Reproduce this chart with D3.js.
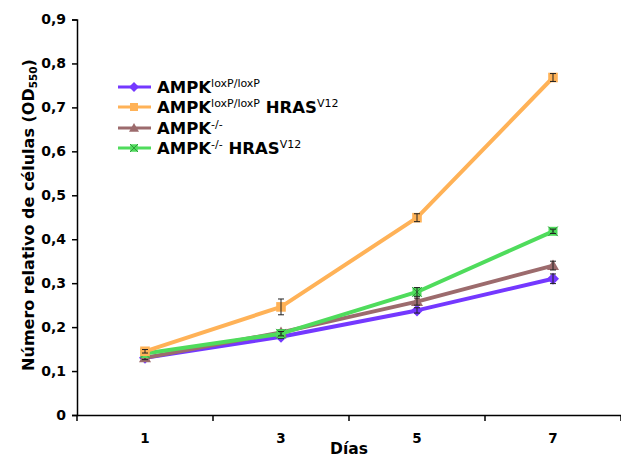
<!DOCTYPE html>
<html><head><meta charset="utf-8">
<script src="https://cdn.jsdelivr.net/npm/d3@7"></script>
<style>body{margin:0;background:#fff}svg{display:block;font-family:"DejaVu Sans",Verdana,sans-serif}</style>
</head><body><svg id="c" width="621" height="459"></svg>
<script>
const days = ["1","3","5","7"];
const yTicks = [0,0.1,0.2,0.3,0.4,0.5,0.6,0.7,0.8,0.9];
const seriesNames = ["AMPK loxP/loxP","AMPK loxP/loxP HRAS V12","AMPK -/-","AMPK -/- HRAS V12"];
const ampkFlox = [0.130,0.178,0.238,0.310];
const ampkFloxErr = [0.004,0.004,0.006,0.011];
const ampkFloxHras = [0.145,0.246,0.449,0.768];
const ampkFloxHrasErr = [0.004,0.018,0.009,0.009];
const ampkKo = [0.130,0.188,0.258,0.340];
const ampkKoErr = [0.004,0.006,0.008,0.010];
const ampkKoHras = [0.140,0.185,0.280,0.418];
const ampkKoHrasErr = [0.004,0.005,0.010,0.005];

const colors = ["#7438ff","#ffb257","#9c6b6d","#4fdc5c"];
const markers = ["diamond","square","triangle","squarex"];
const series = [
  {name:0, v:ampkFlox, e:ampkFloxErr},
  {name:1, v:ampkFloxHras, e:ampkFloxHrasErr},
  {name:2, v:ampkKo, e:ampkKoErr},
  {name:3, v:ampkKoHras, e:ampkKoHrasErr}
];
const drawOrder = [0,2,3,1];

const svg = d3.select("#c");
const x = d3.scaleBand().domain(days).range([77,621]);
const y = d3.scaleLinear().domain([0,0.9]).range([415,19.5]);

// axes
const yAx = svg.append("g").attr("transform","translate(77,0)")
  .call(d3.axisLeft(y).tickValues(yTicks).tickSize(5).tickPadding(6)
    .tickFormat(d=>d3.format(".1f")(d).replace(".",",").replace(/^0,0$/,"0")));
yAx.selectAll("text").attr("font-size",14).attr("font-weight","bold").attr("fill","#000").attr("font-family","DejaVu Sans");
yAx.selectAll("line,path").attr("stroke","#000").attr("stroke-width",1.5);

const xAx = svg.append("g").attr("transform","translate(0,415)")
  .call(d3.axisBottom(x).tickSize(0).tickPadding(18));
xAx.select(".domain").attr("stroke","#000").attr("stroke-width",1.5);
xAx.selectAll("text").attr("font-size",13.5).attr("font-weight","bold").attr("fill","#000").attr("font-family","DejaVu Sans");
// ticks at band boundaries
const bounds = days.map(d=>x(d)).concat([x.range()[1]]);
svg.append("g").selectAll("line").data(bounds).join("line")
  .attr("x1",d=>d).attr("x2",d=>d).attr("y1",415).attr("y2",421)
  .attr("stroke","#000").attr("stroke-width",1.5);

// titles
svg.append("text").attr("x",349).attr("y",454).attr("text-anchor","middle")
  .attr("font-size",15.5).attr("font-weight","bold").text("Días");
const yt = svg.append("text").attr("transform","translate(34,215) rotate(-90)")
  .attr("text-anchor","middle").attr("font-size",16).attr("font-weight","bold");
yt.append("tspan").text("Número relativo de células (OD");
yt.append("tspan").attr("font-size",10.5).attr("dy",3).text("550");
yt.append("tspan").attr("dy",-3).text(")");

function marker(g, type, cx, cy, col, s){
  if(type==="diamond"){
    g.append("path").attr("d",`M${cx},${cy-s}L${cx+s},${cy}L${cx},${cy+s}L${cx-s},${cy}Z`).attr("fill",col);
  } else if(type==="square"){
    g.append("rect").attr("x",cx-s*0.8).attr("y",cy-s*0.8).attr("width",s*1.6).attr("height",s*1.6).attr("fill",col);
  } else if(type==="triangle"){
    g.append("path").attr("d",`M${cx},${cy-s}L${cx+s},${cy+s*0.75}L${cx-s},${cy+s*0.75}Z`).attr("fill",col);
  } else {
    g.append("rect").attr("x",cx-s*0.75).attr("y",cy-s*0.75).attr("width",s*1.5).attr("height",s*1.5).attr("fill",col);
    g.append("path").attr("d",`M${cx-s*0.8},${cy-s*0.8}L${cx+s*0.8},${cy+s*0.8}M${cx-s*0.8},${cy+s*0.8}L${cx+s*0.8},${cy-s*0.8}`)
      .attr("stroke","#2e9a3a").attr("stroke-width",1);
  }
}

const cx = d=>x(d)+x.bandwidth()/2;
const line = d3.line().x((v,i)=>cx(days[i])).y(v=>y(v));
const plot = svg.append("g");
drawOrder.forEach(si=>{
  const s = series[si];
  const g = plot.append("g");
  g.append("path").attr("d",line(s.v)).attr("fill","none").attr("stroke",colors[si]).attr("stroke-width",4).attr("stroke-linejoin","round");
  s.v.forEach((v,i)=>marker(g,markers[si],cx(days[i]),y(v),colors[si],6));
  s.v.forEach((v,i)=>{
    const X = cx(days[i]), y1 = y(v+s.e[i]), y2 = y(v-s.e[i]);
    g.append("path").attr("d",`M${X},${y1}V${y2}M${X-3},${y1}H${X+3}M${X-3},${y2}H${X+3}`)
      .attr("stroke","#222").attr("stroke-width",1).attr("fill","none");
  });
});

// legend
const leg = svg.append("g");
const legY = [87,107,128,148];
[0,1,2,3].forEach(i=>{
  const g = leg.append("g");
  const yy = legY[i];
  g.append("line").attr("x1",118).attr("x2",151).attr("y1",yy).attr("y2",yy).attr("stroke",colors[i]).attr("stroke-width",3);
  marker(g, markers[i], 134, yy, colors[i], 5);
  const t = g.append("text").attr("x",157).attr("y",yy+6).attr("font-size",16.5).attr("font-weight","bold");
  const parts = seriesNames[i].split(" ");
  t.append("tspan").text(parts[0]);
  t.append("tspan").attr("font-size",11).attr("font-weight","normal").attr("dy",-6).text(parts[1]);
  if(parts[2]){
    t.append("tspan").attr("dy",6).text(" "+parts[2]);
    t.append("tspan").attr("font-size",11).attr("font-weight","normal").attr("dy",-6).text(parts[3]);
  }
});
</script></body></html>
